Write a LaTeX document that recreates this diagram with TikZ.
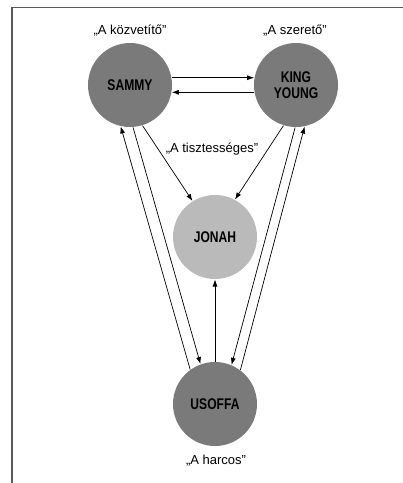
\documentclass[tikz,border=0pt]{standalone}
\usepackage{fontspec}
\setmainfont{Liberation Sans}
\newfontfamily\namefont{Liberation Sans}[FakeStretch=0.78]
\usetikzlibrary{arrows.meta}
\definecolor{darkball}{gray}{0.48}
\definecolor{lightball}{gray}{0.73}
\definecolor{framegray}{gray}{0.35}
\tikzset{
  ball/.style={circle, minimum size=84pt, inner sep=0pt, outer sep=0pt,
    fill=darkball, align=center,
    font=\namefont\bfseries\fontsize{15.5}{16}\selectfont},
  lightballstyle/.style={ball, fill=lightball},
  lbl/.style={anchor=base, inner sep=0pt, font=\fontsize{13}{14}\selectfont},
  conn/.style={line width=0.7pt, -{Latex[length=7pt,width=5pt]}, shorten >=0.5pt, shorten <=0.5pt}
}
\begin{document}
\begin{tikzpicture}[x=1pt,y=-1pt]
\useasboundingbox (0,0) rectangle (403,483);
\draw[framegray, line width=1.5pt] (12,483) -- (12,7.5) -- (403,7.5);

\node[ball] (S) at (130,85) {SAMMY};
\node[ball] (K) at (296,85) {KING\\YOUNG};
\node[lightballstyle] (J) at (215,237) {JONAH};
\node[ball] (U) at (215,404) {USOFFA};

\node[lbl] (lS) at (130,34) {„A közvetítő”};
\node[lbl] (lK) at (295,34) {„A szerető”};
\node[lbl] (lJ) at (212,152) {„A tisztességes”};
\node[lbl] (lU) at (216,464) {„A harcos”};

% Sammy <-> King Young
\draw[conn] (S.10) -- (K.170);
\draw[conn] (K.-170) -- (S.-10);

% to Jonah
\draw[conn] (S.-73) -- (J.122);
\draw[conn] (K.-107) -- (J.62);
\draw[conn] (U.north) -- (J.south);

% Sammy <-> Usoffa
\draw[conn] (U.126) -- (S.-103);
\draw[conn] (S.-86) -- (U.110);

% King Young <-> Usoffa
\draw[conn] (K.-91) -- (U.67);
\draw[conn] (U.53) -- (K.-78);
\end{tikzpicture}
\end{document}
